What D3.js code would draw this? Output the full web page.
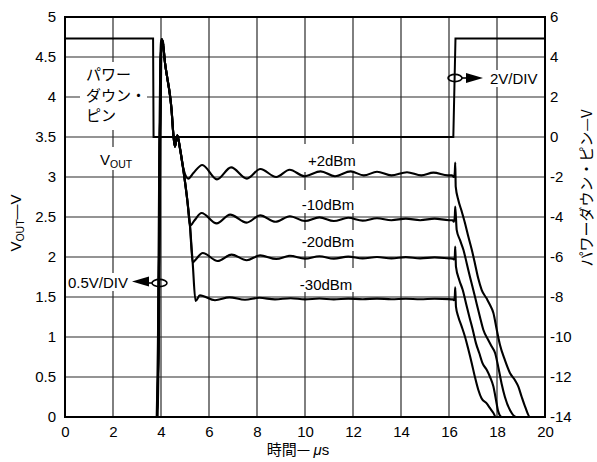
<!DOCTYPE html>
<html><head><meta charset="utf-8">
<script src="https://cdn.jsdelivr.net/npm/d3@7"></script>
<style>body{margin:0;background:#fff;} svg{display:block;}</style>
</head><body>
<script>
// ---------- data ----------
const xTicks = [0,2,4,6,8,10,12,14,16,18,20];
const leftTicks = [0,0.5,1,1.5,2,2.5,3,3.5,4,4.5,5];
const rightTicks = [6,4,2,0,-2,-4,-6,-8,-10,-12,-14];

// power-down pin voltage (right axis, V)
const powerDown = [[0,4.93],[3.67,4.93],[3.69,0],[16.18,0],[16.27,4.93],[20,4.93]];

// shared turn-on transient of VOUT (left axis, V)
const voutCommon = [[0,0],[3.84,0],[3.9,1.2],[3.95,3.4],[3.99,4.45],[4.03,4.72],[4.09,4.65],
  [4.17,4.42],[4.25,4.26],[4.375,4.02],[4.44,3.84],[4.51,3.55],[4.58,3.38],[4.68,3.52],[4.79,3.36]];

const voutP2 = [[4.9,3.15],[5.14,2.98],[5.35,3.05],[5.72,3.15],[6.33,2.97],[6.92,3.12],[7.58,2.98],
  [8.14,3.1],[8.8,3.0],[9.36,3.09],[9.98,3.01],[10.65,3.07],[11.25,3.01],[11.9,3.07],[12.45,3.02],
  [13.0,3.065],[13.6,3.02],[14.25,3.06],[14.85,3.02],[15.35,3.055],[15.95,3.02],[16.12,3.02],
  [16.2,3.0],[16.24,3.05],[16.26,3.18],[16.28,2.88],[16.39,2.71],[16.53,2.57],[16.67,2.42],
  [16.81,2.25],[16.95,2.09],[17.08,1.92],[17.22,1.73],[17.36,1.59],[17.57,1.48],[17.71,1.4],
  [17.85,1.3],[17.99,1.09],[18.125,0.9],[18.33,0.71],[18.54,0.55],[18.75,0.46],[18.89,0.38],
  [19.03,0.25],[19.17,0.13],[19.375,0],[20,0]];

const voutM10 = [[4.95,3.05],[5.1,2.7],[5.21,2.39],[5.4,2.46],[5.69,2.55],[6.32,2.42],[6.88,2.53],
  [7.57,2.43],[8.13,2.52],[8.77,2.44],[9.37,2.51],[10.0,2.45],[10.6,2.495],[11.2,2.45],[11.8,2.49],
  [12.4,2.455],[13.0,2.485],[13.6,2.46],[14.2,2.48],[14.8,2.46],[15.4,2.48],[16.0,2.46],[16.15,2.46],
  [16.2,2.44],[16.24,2.5],[16.26,2.63],[16.32,2.34],[16.46,2.21],[16.6,2.09],[16.74,1.92],
  [16.875,1.75],[17.01,1.59],[17.15,1.42],[17.29,1.25],[17.43,1.09],[17.64,0.96],[17.78,0.88],
  [17.92,0.8],[18.05,0.63],[18.19,0.42],[18.33,0.25],[18.55,0.08],[18.8,0],[20,0]];

const voutM20 = [[4.95,3.05],[5.1,2.7],[5.21,2.38],[5.32,1.93],[5.45,1.97],[5.74,2.05],[6.36,1.95],
  [6.94,2.03],[7.57,1.96],[8.13,2.02],[8.8,1.975],[9.37,2.015],[10.0,1.98],[10.6,2.01],[11.2,1.98],
  [11.8,2.005],[12.4,1.983],[13.0,2.0],[13.6,1.983],[14.2,1.998],[14.8,1.983],[15.4,1.995],
  [16.0,1.983],[16.15,1.98],[16.2,1.97],[16.24,2.0],[16.26,2.13],[16.29,1.88],[16.43,1.71],
  [16.57,1.59],[16.71,1.42],[16.85,1.25],[16.99,1.09],[17.125,0.92],[17.26,0.8],[17.4,0.67],
  [17.57,0.59],[17.71,0.5],[17.85,0.38],[17.96,0.21],[18.05,0.07],[18.2,0],[20,0]];

const voutM30 = [[4.95,3.05],[5.1,2.7],[5.21,2.38],[5.32,1.93],[5.44,1.45],[5.62,1.52],[6.25,1.46],
  [6.85,1.495],[7.5,1.465],[8.1,1.49],[8.75,1.47],[9.4,1.485],[10.0,1.47],[10.6,1.482],[11.2,1.47],
  [11.8,1.48],[12.4,1.472],[13.0,1.48],[13.6,1.472],[14.2,1.478],[14.8,1.472],[15.4,1.478],
  [16.0,1.474],[16.15,1.47],[16.2,1.46],[16.24,1.5],[16.26,1.62],[16.29,1.38],[16.39,1.25],
  [16.53,1.13],[16.67,1.0],[16.81,0.84],[16.95,0.67],[17.08,0.5],[17.22,0.34],[17.36,0.23],
  [17.57,0.17],[17.71,0.11],[17.85,0.05],[17.95,0],[20,0]];

const seriesLabels = ["+2dBm","-10dBm","-20dBm","-30dBm"];

// ---------- drawing ----------
const W = 597, H = 462;
const L = 65, R = 545, T = 17, B = 417;
const NUM = "'Liberation Sans', Arial, sans-serif";
const JP = "'Noto Sans CJK JP', 'Noto Sans', sans-serif";

const x = d3.scaleLinear().domain([0,20]).range([L,R]);
const yL = d3.scaleLinear().domain([0,5]).range([B,T]);
const yR = d3.scaleLinear().domain([-14,6]).range([B,T]);

const svg = d3.select("body").append("svg").attr("width",W).attr("height",H);
svg.append("rect").attr("width",W).attr("height",H).attr("fill","#fff");

// gridlines
const grid = svg.append("g").attr("stroke","#2a2a2a").attr("stroke-width",1.2);
grid.selectAll("line.v").data(xTicks.slice(1,-1)).join("line")
  .attr("x1",d=>x(d)).attr("x2",d=>x(d)).attr("y1",T).attr("y2",B);
grid.selectAll("line.h").data(leftTicks.slice(1,-1)).join("line")
  .attr("x1",L).attr("x2",R).attr("y1",d=>yL(d)).attr("y2",d=>yL(d));

// white boxes behind annotations
const boxes = [[80,62,67,68],[95,147,45,23],[66,273,68,18],[487,70,54,17],
  [298,144,62,28],[298,190,62,23],[298,230,62,21],[296,268,64,24]];
svg.append("g").selectAll("rect").data(boxes).join("rect")
  .attr("x",d=>d[0]).attr("y",d=>d[1]).attr("width",d=>d[2]).attr("height",d=>d[3]).attr("fill","#fff");

// border
svg.append("rect").attr("x",L).attr("y",T).attr("width",R-L).attr("height",B-T)
  .attr("fill","none").attr("stroke","#000").attr("stroke-width",2);

// traces
const lineL = d3.line().x(d=>x(d[0])).y(d=>yL(d[1])).curve(d3.curveMonotoneX);
const lineR = d3.line().x(d=>x(d[0])).y(d=>yR(d[1]));
const traces = [voutP2, voutM10, voutM20, voutM30].map(s => voutCommon.concat(s));
svg.append("g").selectAll("path").data(traces).join("path")
  .attr("d",lineL).attr("fill","none").attr("stroke","#000").attr("stroke-width",2.1)
  .attr("stroke-linejoin","round");
// thicker overlapping turn-on segment
svg.append("path").datum(voutCommon.slice(1,7)).attr("d",lineL).attr("fill","none")
  .attr("stroke","#000").attr("stroke-width",3);
svg.append("path").datum(powerDown).attr("d",lineR).attr("fill","none")
  .attr("stroke","#000").attr("stroke-width",2);

// series labels
const labelPos = [[11.12,3.21],[10.96,2.66],[10.96,2.2],[10.88,1.66]];
svg.append("g").attr("font-family",NUM).attr("font-size",15).attr("text-anchor","middle")
  .selectAll("text").data(seriesLabels).join("text")
  .attr("x",(d,i)=>x(labelPos[i][0])).attr("y",(d,i)=>yL(labelPos[i][1])+5.5).text(d=>d);

// power-down pin label
const pd = svg.append("text").attr("font-family",JP).attr("font-size",15).attr("x",86);
pd.append("tspan").attr("x",86).attr("y",79.5).text("パワー");
pd.append("tspan").attr("x",86).attr("y",100.5).text("ダウン・");
pd.append("tspan").attr("x",86).attr("y",121).text("ピン");

// VOUT label
const vo = svg.append("text").attr("font-family",NUM).attr("font-size",15).attr("x",100).attr("y",165);
vo.append("tspan").text("V");
vo.append("tspan").attr("font-size",10.5).attr("dy",3).text("OUT");

// scale annotations
const ann = svg.append("g").attr("stroke","#000").attr("stroke-width",1.6).attr("fill","none");
ann.append("ellipse").attr("cx",159.5).attr("cy",283).attr("rx",7.5).attr("ry",3.6);
ann.append("line").attr("x1",146).attr("x2",152).attr("y1",283).attr("y2",283);
svg.append("path").attr("d","M132,281.5L149,276.5L149,286.5Z").attr("fill","#000");
ann.append("ellipse").attr("cx",455).attr("cy",78).attr("rx",7).attr("ry",3.6);
ann.append("line").attr("x1",462).attr("x2",468).attr("y1",78).attr("y2",78);
svg.append("path").attr("d","M483,78L466,73L466,83Z").attr("fill","#000");
svg.append("text").attr("font-family",NUM).attr("font-size",15).attr("x",68).attr("y",288).text("0.5V/DIV");
svg.append("text").attr("font-family",NUM).attr("font-size",15).attr("x",490).attr("y",83.5).text("2V/DIV");

// axes
function styleAxis(g){ g.attr("font-size",15).attr("font-family",NUM); g.select(".domain").remove(); g.selectAll("text").attr("fill","#000"); }
svg.append("g").attr("transform",`translate(${L},0)`)
  .call(d3.axisLeft(yL).tickValues(leftTicks).tickSize(0).tickPadding(9).tickFormat(d=>String(d)))
  .call(styleAxis);
svg.append("g").attr("transform",`translate(${R},0)`)
  .call(d3.axisRight(yR).tickValues(rightTicks).tickSize(0).tickPadding(5).tickFormat(d=>String(d)))
  .call(styleAxis);
svg.append("g").attr("transform",`translate(0,${B})`)
  .call(d3.axisBottom(x).tickValues(xTicks).tickSize(0).tickPadding(9).tickFormat(d=>String(d)))
  .call(styleAxis);

// axis titles
const lt = svg.append("text").attr("transform","translate(21,223) rotate(-90)")
  .attr("text-anchor","middle").attr("font-family",NUM).attr("font-size",15);
lt.append("tspan").text("V");
lt.append("tspan").attr("font-size",10.5).attr("dy",3).text("OUT");
lt.append("tspan").attr("dy",-3).text("—V");

svg.append("text").attr("transform","translate(592,188) rotate(-90)")
  .attr("text-anchor","middle").attr("font-family",JP).attr("font-size",15)
  .text("パワーダウン・ピン—V");

const xt = svg.append("text").attr("x",298).attr("y",455).attr("text-anchor","middle")
  .attr("font-family",JP).attr("font-size",15);
xt.append("tspan").text("時間— ");
xt.append("tspan").attr("font-style","italic").attr("font-family",NUM).text("μ");
xt.append("tspan").attr("font-family",NUM).text("s");
</script>
</body></html>
